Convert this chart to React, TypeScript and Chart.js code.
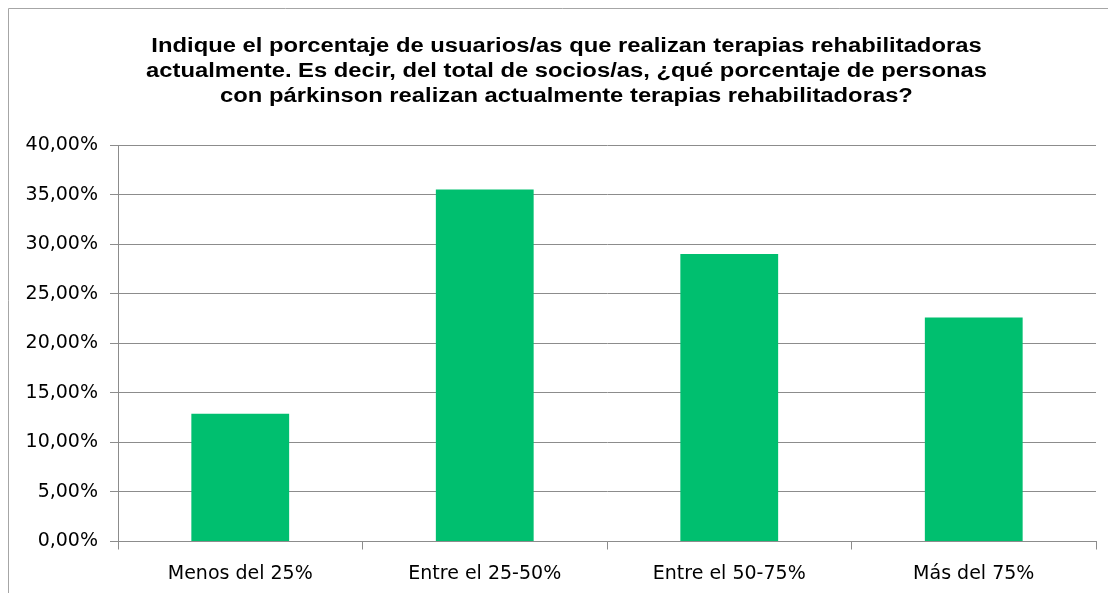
import React, { useEffect, useRef } from "react";
import { Chart, registerables } from "chart.js";

Chart.register(...registerables);

const titleLines = [
  "Indique el porcentaje de usuarios/as que realizan terapias rehabilitadoras",
  "actualmente. Es decir, del total de socios/as, ¿qué porcentaje de personas",
  "con párkinson realizan actualmente terapias rehabilitadoras?",
];
const categories = ["Menos del 25%", "Entre el 25-50%", "Entre el 50-75%", "Más del 75%"];
const values = [12.9, 35.5, 29.0, 22.6];
const yTicks = [0, 5, 10, 15, 20, 25, 30, 35, 40];

const fmt = (v: number) => v.toFixed(2).replace(".", ",") + "%";

const W = 1108;
const H = 585;

const framePlugin = {
  id: "frame",
  beforeDraw(chart: any) {
    const ctx = chart.ctx;
    ctx.save();
    ctx.fillStyle = "#ffffff";
    ctx.fillRect(0, 0, chart.width, chart.height);
    ctx.strokeStyle = "#a6a6a6";
    ctx.lineWidth = 1;
    ctx.beginPath();
    ctx.moveTo(0.5, chart.height);
    ctx.lineTo(0.5, 0.5);
    ctx.lineTo(chart.width, 0.5);
    ctx.stroke();
    ctx.restore();
  },
  afterDraw(chart: any) {
    const ctx = chart.ctx;
    ctx.fillStyle = "#000000";
    ctx.font = "bold 19.5px 'Liberation Sans', Arial, sans-serif";
    ctx.textAlign = "center";
    ctx.textBaseline = "alphabetic";
    const baselines = [43.7, 68.7, 94];
    titleLines.forEach((t, i) => {
      ctx.save();
      ctx.translate(558.5, baselines[i]);
      ctx.scale(1.22, 1);
      ctx.fillText(t, 0, 0);
      ctx.restore();
    });
  },
};

export default function App() {
  const ref = useRef<HTMLCanvasElement | null>(null);
  useEffect(() => {
    if (!ref.current) return;
    const chart = new Chart(ref.current, {
      type: "bar",
      data: {
        labels: categories,
        datasets: [
          {
            data: values,
            backgroundColor: "#00BF6F",
            borderWidth: 0,
            barPercentage: 0.4,
            categoryPercentage: 1,
          },
        ],
      },
      options: {
        animation: false,
        responsive: false,
        layout: { padding: { top: 137, right: 20, left: 0, bottom: 0 } },
        plugins: { legend: { display: false }, title: { display: false }, tooltip: { enabled: false } },
        scales: {
          x: {
            offset: true,
            grid: {
              offset: true,
              drawOnChartArea: false,
              drawTicks: true,
              tickLength: 8,
              color: "#8c8c8c",
            },
            border: { display: true, color: "#8c8c8c", width: 1 },
            ticks: {
              color: "#000000",
              font: { family: "'DejaVu Sans'", size: 19 },
              padding: 13,
              maxRotation: 0,
              autoSkip: false,
            },
            afterFit: (s: any) => {
              s.height = 51.5;
            },
          },
          y: {
            min: 0,
            max: 40,
            afterBuildTicks: (s: any) => {
              s.ticks = yTicks.map((v) => ({ value: v }));
            },
            grid: { color: "#8c8c8c", tickLength: 8, drawTicks: true },
            border: { display: true, color: "#8c8c8c", width: 1 },
            ticks: {
              color: "#000000",
              font: { family: "'DejaVu Sans'", size: 19 },
              padding: 12,
              callback: (v: any) => fmt(Number(v)),
            },
            afterFit: (s: any) => {
              s.width = 110;
            },
          },
        },
      },
      plugins: [framePlugin],
    });
    return () => chart.destroy();
  }, []);
  return (
    <div>
      <canvas ref={ref} width={W} height={H} style={{ display: "block", width: W, height: H }} />
    </div>
  );
}
